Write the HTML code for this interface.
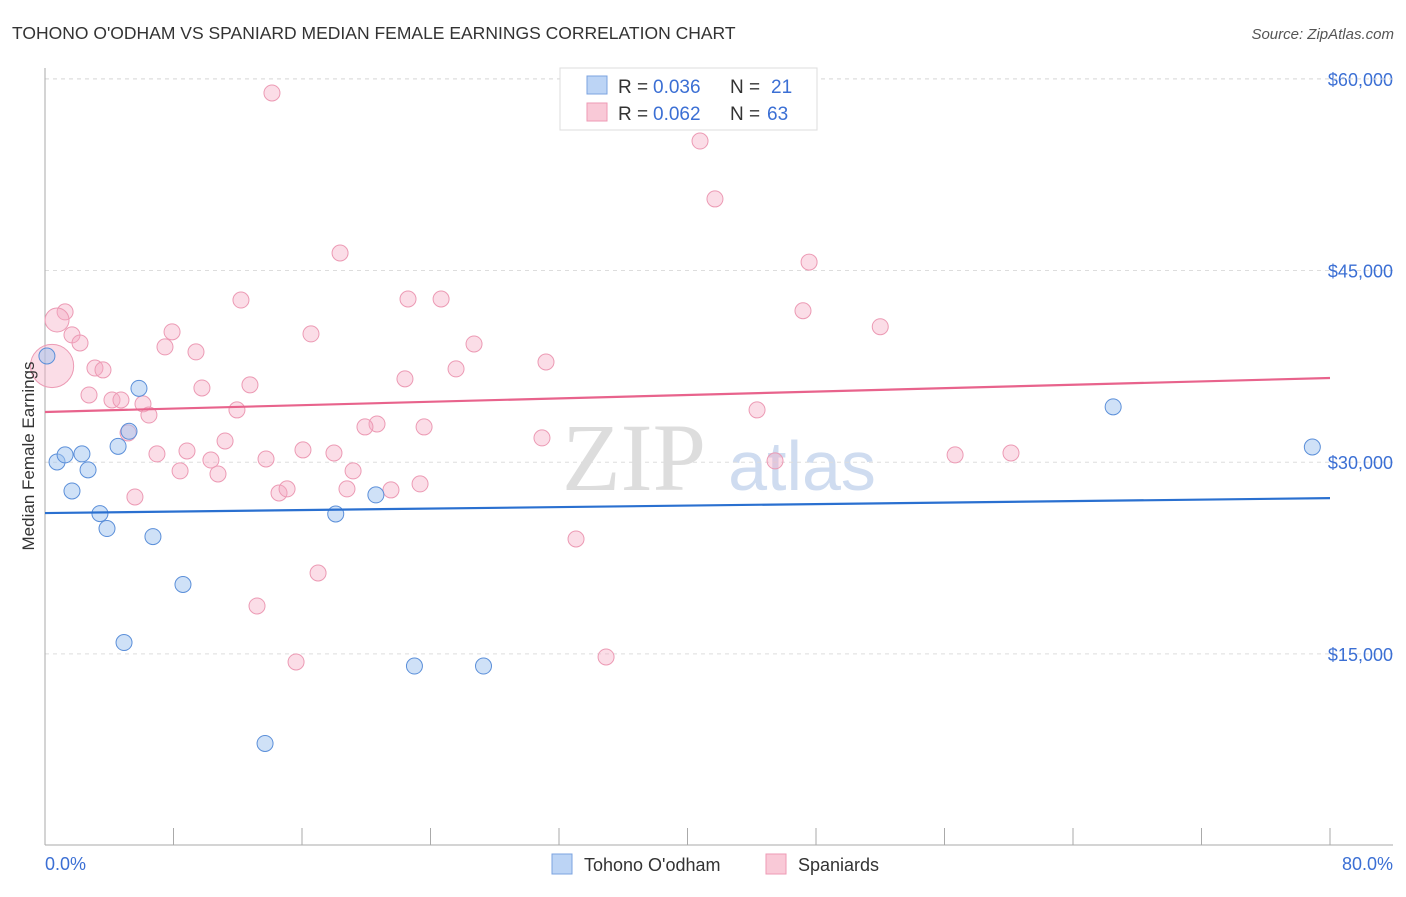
<!DOCTYPE html>
<html><head><meta charset="utf-8"><style>
body{margin:0;background:#fff;font-family:"Liberation Sans",sans-serif;}
</style></head><body>
<svg width="1406" height="892" xmlns="http://www.w3.org/2000/svg" font-family="Liberation Sans, sans-serif">
<text x="12" y="39" font-size="17.5" fill="#333">TOHONO O'ODHAM VS SPANIARD MEDIAN FEMALE EARNINGS CORRELATION CHART</text>
<text x="1394" y="39" font-size="15" fill="#555" font-style="italic" text-anchor="end">Source: ZipAtlas.com</text>
<g>
<text x="634" y="490" font-size="96" fill="#ddd" text-anchor="middle" font-family="Liberation Serif, serif">ZIP</text>
<text x="802" y="490" font-size="70" fill="#cfdcf0" text-anchor="middle">atlas</text>
</g>
<g id="grid"></g>
<g id="axes"></g>
<g id="marks"></g>
<text transform="translate(34,456) rotate(-90)" font-size="17" fill="#333" text-anchor="middle">Median Female Earnings</text>
<text x="45" y="870" font-size="18" fill="#3b6fd4">0.0%</text>
<text x="1393" y="870" font-size="18" fill="#3b6fd4" text-anchor="end">80.0%</text>
<g>
<rect x="560" y="68" width="257" height="62" fill="#fff" stroke="#ddd"/>
<rect x="587" y="76" width="20" height="18" fill="#bcd4f5" stroke="#7ba3e0"/>
<text x="618" y="93" font-size="19" fill="#333">R =</text>
<text x="653" y="93" font-size="19" fill="#3b6fd4">0.036</text>
<text x="730" y="93" font-size="19" fill="#333">N =</text>
<text x="771" y="93" font-size="19" fill="#3b6fd4">21</text>
<rect x="587" y="103" width="20" height="18" fill="#f9c9d7" stroke="#ee9ab4"/>
<text x="618" y="120" font-size="19" fill="#333">R =</text>
<text x="653" y="120" font-size="19" fill="#3b6fd4">0.062</text>
<text x="730" y="120" font-size="19" fill="#333">N =</text>
<text x="767" y="120" font-size="19" fill="#3b6fd4">63</text>
</g>
<g>
<rect x="552" y="854" width="20" height="20" fill="#bcd4f5" stroke="#7ba3e0"/>
<text x="584" y="871" font-size="18" fill="#333">Tohono O'odham</text>
<rect x="766" y="854" width="20" height="20" fill="#f9c9d7" stroke="#ee9ab4"/>
<text x="798" y="871" font-size="18" fill="#333">Spaniards</text>
</g>
</svg>
<script>
const yTicks=[15000,30000,45000,60000];
const yTickLabels=["$15,000","$30,000","$45,000","$60,000"];
const xTicks=[0,8,16,24,32,40,48,56,64,72,80];
const blueX=[0.12,0.75,1.25,2.3,2.68,1.68,4.55,5.85,5.23,3.42,3.86,6.72,8.59,4.92,13.7,18.1,20.6,23.0,27.3,66.5,78.9];
const blueY=[38310,30020,30570,30650,29400,27750,31240,35780,32420,25980,24810,24180,20430,15890,7990,25950,27440,14050,14050,34330,31190];
const pinkX=[14.13,40.78,41.71,18.37,47.57,12.2,22.6,24.66,47.19,52.0,1.25,0.75,1.68,2.18,16.56,7.91,7.47,9.4,26.71,31.19,3.11,3.61,0.44,22.41,25.59,12.76,9.77,2.74,4.17,4.73,6.1,6.47,11.95,44.33,20.67,19.92,23.6,5.17,11.21,30.94,6.97,8.84,16.06,17.99,10.33,13.76,56.66,60.14,45.45,8.41,10.77,19.18,5.6,14.57,15.07,18.8,21.54,23.35,33.06,17.0,13.2,15.63,34.93];
const pinkY=[58890,55130,50600,46370,45660,42690,42770,42770,41850,40600,41760,41130,39960,39330,40040,40200,39020,38630,39250,37840,37370,37220,37530,36520,37300,36050,35810,35260,34870,34870,34560,33690,34090,34090,32990,32760,32760,32290,31660,31900,30650,30880,30960,30720,30170,30250,30570,30720,30100,29320,29080,29320,27280,27590,27910,27910,27830,28300,23990,21330,18750,14370,14760];
const pinkW=[1,1,1,1,1,1,1,1,1,1,1,1.5,1,1,1,1,1,1,1,1,1,1,2.7];
const blueTrend=[26020,27190];
const pinkTrend=[33930,36590];
const X0=45,X1=1330,Y0=845.6,YS=191.7/15000;
const xs=v=>X0+(X1-X0)*v/80, ys=v=>Y0-v*YS;
const NS="http://www.w3.org/2000/svg";
function mk(p,t,a){const e=document.createElementNS(NS,t);for(const k in a)e.setAttribute(k,a[k]);document.getElementById(p).appendChild(e);return e;}
yTicks.forEach((v,i)=>{
 const g=mk('grid','line',{x1:45,x2:1393,y1:ys(v),y2:ys(v),stroke:'#ddd','stroke-dasharray':'4,4'});
 
 
 const t=mk('grid','text',{x:1393,y:ys(v)+7,'font-size':18,fill:'#3b6fd4','text-anchor':'end'});
 t.textContent=yTickLabels[i];
 
 
});
const topGrid=mk('grid','line',{x1:45,x2:1393,y1:79,y2:79,stroke:'#ddd','stroke-dasharray':'4,4'});


const ya=mk('axes','line',{x1:45,x2:45,y1:68,y2:845,stroke:'#aaa'});


const xa=mk('axes','line',{x1:45,x2:1393,y1:845,y2:845,stroke:'#aaa'});


xTicks.forEach(v=>{
 const l=mk('axes','line',{x1:xs(v),x2:xs(v),y1:828,y2:845,stroke:'#aaa'});
 
 
});
pinkX.forEach((x,i)=>{
 const c=mk('marks','circle',{cx:xs(x),cy:ys(pinkY[i]),r:8*(pinkW[i]||1),fill:'rgba(246,170,195,0.4)',stroke:'#ec9ab4','stroke-width':1});
 
 
});
blueX.forEach((x,i)=>{
 const c=mk('marks','circle',{cx:xs(x),cy:ys(blueY[i]),r:8,fill:'rgba(160,195,240,0.5)',stroke:'#5b8fd9','stroke-width':1});
 
 
});
const pt=mk('marks','line',{x1:xs(0),x2:xs(80),y1:ys(pinkTrend[0]),y2:ys(pinkTrend[1]),stroke:'#e8638c','stroke-width':2.2});


const bt=mk('marks','line',{x1:xs(0),x2:xs(80),y1:ys(blueTrend[0]),y2:ys(blueTrend[1]),stroke:'#2a70d0','stroke-width':2.2});


</script>
</body></html>
